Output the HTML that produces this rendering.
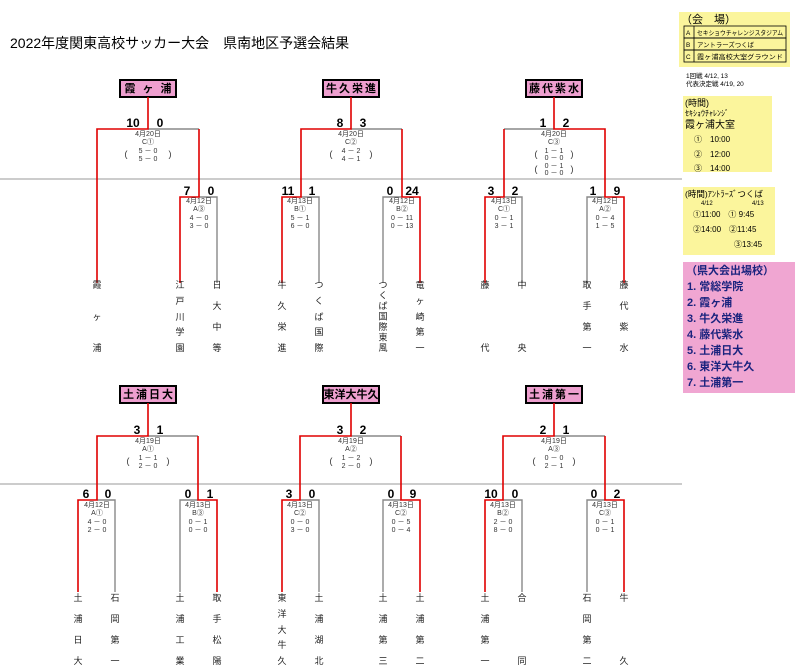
<!DOCTYPE html>
<html><head><meta charset="utf-8">
<style>
html,body{margin:0;padding:0;background:#fff;}
svg{display:block;font-family:"Liberation Sans","Noto Sans CJK JP",sans-serif;}
.t{font-size:7px;fill:#333;text-anchor:middle;}
.s{font-size:12px;font-weight:bold;fill:#000;text-anchor:middle;}
.n{font-size:9px;fill:#222;text-anchor:middle;}
.b{font-size:11px;font-weight:bold;fill:#000;text-anchor:middle;letter-spacing:2px;}
.r{fill:none;stroke:#e00000;stroke-width:1.6;}
.g{fill:none;stroke:#888;stroke-width:1.4;}
</style></head><body>
<svg width="800" height="668" viewBox="0 0 800 668" xmlns="http://www.w3.org/2000/svg">
<text x="10" y="48" style="font-size:14px;fill:#000">2022年度関東高校サッカー大会　県南地区予選会結果</text>

<line x1="0" y1="179" x2="682" y2="179" stroke="#999" stroke-width="1"/>
<line x1="0" y1="484" x2="682" y2="484" stroke="#999" stroke-width="1"/>

<rect x="679" y="12" width="111" height="55" fill="#fbf59c"/>
<text x="681" y="23" style="font-size:11px">（会　場）</text>
<g font-size="6.4" fill="#000">
<rect x="684" y="26" width="102" height="12" fill="none" stroke="#000" stroke-width="0.8"/>
<rect x="684" y="38" width="102" height="12" fill="none" stroke="#000" stroke-width="0.8"/>
<rect x="684" y="50" width="102" height="12" fill="none" stroke="#000" stroke-width="0.8"/>
<line x1="694" y1="26" x2="694" y2="62" stroke="#000" stroke-width="0.8"/>
<text x="686" y="35">A</text><text x="697" y="35" textLength="86" lengthAdjust="spacingAndGlyphs">セキショウチャレンジスタジアム</text>
<text x="686" y="47">B</text><text x="697" y="47">アントラーズつくば</text>
<text x="686" y="59">C</text><text x="697" y="59" textLength="86" lengthAdjust="spacingAndGlyphs">霞ヶ浦高校大室グラウンド</text>
</g>
<text x="686" y="78" style="font-size:6.5px">1回戦  4/12, 13</text>
<text x="686" y="86" style="font-size:6.5px">代表決定戦  4/19, 20</text>

<rect x="683" y="96" width="89" height="76" fill="#fbf59c"/>
<text x="685" y="106" style="font-size:9px">(時間)</text>
<text x="685" y="116" style="font-size:8px">ｾｷｼｮｳﾁｬﾚﾝｼﾞ</text>
<text x="685" y="128" style="font-size:10px">霞ヶ浦大室</text>
<text x="694" y="142" style="font-size:8px">①　10:00</text>
<text x="694" y="157" style="font-size:8px">②　12:00</text>
<text x="694" y="171" style="font-size:8px">③　14:00</text>

<rect x="683" y="187" width="92" height="68" fill="#fbf59c"/>
<text x="685" y="197" style="font-size:8.5px">(時間)ｱﾝﾄﾗｰｽﾞつくば</text>
<text x="701" y="205" style="font-size:6px">4/12</text>
<text x="752" y="205" style="font-size:6px">4/13</text>
<text x="693" y="217" style="font-size:8px">①11:00　①  9:45</text>
<text x="693" y="232" style="font-size:8px">②14:00　②11:45</text>
<text x="734" y="247" style="font-size:8px">③13:45</text>

<rect x="683" y="262" width="112" height="131" fill="#f0a6d2"/>
<g style="font-size:11px;font-weight:bold" fill="#1a237e">
<text x="686" y="274">（県大会出場校）</text>
<text x="687" y="290">1. 常総学院</text>
<text x="687" y="306">2. 霞ヶ浦</text>
<text x="687" y="322">3. 牛久栄進</text>
<text x="687" y="338">4. 藤代紫水</text>
<text x="687" y="354">5. 土浦日大</text>
<text x="687" y="370">6. 東洋大牛久</text>
<text x="687" y="386">7. 土浦第一</text>
</g>

<g>
<rect x="120" y="80" width="56" height="17" fill="#ee9fcf" stroke="#000" stroke-width="2"/>
<text class="b" x="149" y="92">霞 ヶ 浦</text>
<rect x="323" y="80" width="56" height="17" fill="#ee9fcf" stroke="#000" stroke-width="2"/>
<text class="b" x="352" y="92">牛久栄進</text>
<rect x="526" y="80" width="56" height="17" fill="#ee9fcf" stroke="#000" stroke-width="2"/>
<text class="b" x="555" y="92">藤代紫水</text>
<rect x="120" y="386" width="56" height="17" fill="#ee9fcf" stroke="#000" stroke-width="2"/>
<text class="b" x="149" y="398">土浦日大</text>
<rect x="323" y="386" width="56" height="17" fill="#ee9fcf" stroke="#000" stroke-width="2"/>
<text class="b" x="351" y="398" style="letter-spacing:0">東洋大牛久</text>
<rect x="526" y="386" width="56" height="17" fill="#ee9fcf" stroke="#000" stroke-width="2"/>
<text class="b" x="555" y="398">土浦第一</text>
</g>

<path class="g" d="M148,129 H199 M199,197 H217 V283"/>
<path class="r" d="M148,97 V129 H97 V283 M199,129 V197 H180 V283"/>
<path class="g" d="M351,129 H402 M301,197 H319 V283 M402,197 H383 V283"/>
<path class="r" d="M351,97 V129 H301 V197 H282 V283 M402,129 V197 H420 V283"/>
<path class="g" d="M504,129 H554 M504,197 H522 V283 M605,197 H587 V283"/>
<path class="r" d="M554,97 V129 H605 V197 H624 V283 M504,129 V197 H485 V283"/>
<path class="g" d="M148,436 H198 M97,500 H115 V592 M198,500 H180 V592"/>
<path class="r" d="M148,403 V436 H97 V500 H78 V592 M198,436 V500 H217 V592"/>
<path class="g" d="M351,436 H401 M300,500 H319 V592 M401,500 H383 V592"/>
<path class="r" d="M351,403 V436 H300 V500 H282 V592 M401,436 V500 H420 V592"/>
<path class="g" d="M554,436 H605 M503,500 H522 V592 M605,500 H587 V592"/>
<path class="r" d="M554,403 V436 H503 V500 H485 V592 M605,436 V500 H624 V592"/>

<text class="s" x="133" y="127">10</text><text class="s" x="160" y="127">0</text>
<text class="s" x="340" y="127">8</text><text class="s" x="363" y="127">3</text>
<text class="s" x="543" y="127">1</text><text class="s" x="566" y="127">2</text>
<text class="s" x="187" y="195">7</text><text class="s" x="211" y="195">0</text>
<text class="s" x="288" y="195">11</text><text class="s" x="312" y="195">1</text>
<text class="s" x="390" y="195">0</text><text class="s" x="412" y="195">24</text>
<text class="s" x="491" y="195">3</text><text class="s" x="515" y="195">2</text>
<text class="s" x="593" y="195">1</text><text class="s" x="617" y="195">9</text>
<text class="s" x="137" y="434">3</text><text class="s" x="160" y="434">1</text>
<text class="s" x="340" y="434">3</text><text class="s" x="363" y="434">2</text>
<text class="s" x="543" y="434">2</text><text class="s" x="566" y="434">1</text>
<text class="s" x="86" y="498">6</text><text class="s" x="108" y="498">0</text>
<text class="s" x="188" y="498">0</text><text class="s" x="210" y="498">1</text>
<text class="s" x="289" y="498">3</text><text class="s" x="312" y="498">0</text>
<text class="s" x="391" y="498">0</text><text class="s" x="413" y="498">9</text>
<text class="s" x="491" y="498">10</text><text class="s" x="515" y="498">0</text>
<text class="s" x="594" y="498">0</text><text class="s" x="617" y="498">2</text>

<text class="t" x="148" y="136">4月20日</text><text class="t" x="148" y="144">C①</text>
<text class="t" x="148" y="153">5 － 0</text><text class="t" x="148" y="161">5 － 0</text>
<text class="t" x="126" y="157" style="font-size:9px">(</text><text class="t" x="170" y="157" style="font-size:9px">)</text>
<text class="t" x="351" y="136">4月20日</text><text class="t" x="351" y="144">C②</text>
<text class="t" x="351" y="153">4 － 2</text><text class="t" x="351" y="161">4 － 1</text>
<text class="t" x="331" y="157" style="font-size:9px">(</text><text class="t" x="371" y="157" style="font-size:9px">)</text>
<text class="t" x="554" y="136">4月20日</text><text class="t" x="554" y="144">C③</text>
<text class="t" x="554" y="153">1 － 1</text><text class="t" x="554" y="160">0 － 0</text>
<text class="t" x="554" y="168">0 － 1</text><text class="t" x="554" y="175">0 － 0</text>
<text class="t" x="536" y="157" style="font-size:9px">(</text><text class="t" x="572" y="157" style="font-size:9px">)</text>
<text class="t" x="536" y="172" style="font-size:9px">(</text><text class="t" x="572" y="172" style="font-size:9px">)</text>
<text class="t" x="199" y="203">4月12日</text><text class="t" x="199" y="211">A③</text><text class="t" x="199" y="220">4 － 0</text><text class="t" x="199" y="228">3 － 0</text>
<text class="t" x="300" y="203">4月13日</text><text class="t" x="300" y="211">B①</text><text class="t" x="300" y="220">5 － 1</text><text class="t" x="300" y="228">6 － 0</text>
<text class="t" x="402" y="203">4月12日</text><text class="t" x="402" y="211">B②</text><text class="t" x="402" y="220">0 － 11</text><text class="t" x="402" y="228">0 － 13</text>
<text class="t" x="504" y="203">4月13日</text><text class="t" x="504" y="211">C①</text><text class="t" x="504" y="220">0 － 1</text><text class="t" x="504" y="228">3 － 1</text>
<text class="t" x="605" y="203">4月12日</text><text class="t" x="605" y="211">A②</text><text class="t" x="605" y="220">0 － 4</text><text class="t" x="605" y="228">1 － 5</text>
<text class="t" x="148" y="443">4月19日</text><text class="t" x="148" y="451">A①</text><text class="t" x="148" y="460">1 － 1</text><text class="t" x="148" y="468">2 － 0</text>
<text class="t" x="128" y="464" style="font-size:9px">(</text><text class="t" x="168" y="464" style="font-size:9px">)</text>
<text class="t" x="351" y="443">4月19日</text><text class="t" x="351" y="451">A②</text><text class="t" x="351" y="460">1 － 2</text><text class="t" x="351" y="468">2 － 0</text>
<text class="t" x="331" y="464" style="font-size:9px">(</text><text class="t" x="371" y="464" style="font-size:9px">)</text>
<text class="t" x="554" y="443">4月19日</text><text class="t" x="554" y="451">A③</text><text class="t" x="554" y="460">0 － 0</text><text class="t" x="554" y="468">2 － 1</text>
<text class="t" x="534" y="464" style="font-size:9px">(</text><text class="t" x="574" y="464" style="font-size:9px">)</text>
<text class="t" x="97" y="507">4月12日</text><text class="t" x="97" y="515">A①</text><text class="t" x="97" y="524">4 － 0</text><text class="t" x="97" y="532">2 － 0</text>
<text class="t" x="198" y="507">4月13日</text><text class="t" x="198" y="515">B③</text><text class="t" x="198" y="524">0 － 1</text><text class="t" x="198" y="532">0 － 0</text>
<text class="t" x="300" y="507">4月13日</text><text class="t" x="300" y="515">C②</text><text class="t" x="300" y="524">0 － 0</text><text class="t" x="300" y="532">3 － 0</text>
<text class="t" x="401" y="507">4月13日</text><text class="t" x="401" y="515">C②</text><text class="t" x="401" y="524">0 － 5</text><text class="t" x="401" y="532">0 － 4</text>
<text class="t" x="503" y="507">4月13日</text><text class="t" x="503" y="515">B②</text><text class="t" x="503" y="524">2 － 0</text><text class="t" x="503" y="532">8 － 0</text>
<text class="t" x="605" y="507">4月13日</text><text class="t" x="605" y="515">C③</text><text class="t" x="605" y="524">0 － 1</text><text class="t" x="605" y="532">0 － 1</text>

<g>
<text class="n" x="97" y="288">霞</text><text class="n" x="97" y="320">ヶ</text><text class="n" x="97" y="351">浦</text>
<text class="n" x="180" y="288">江</text><text class="n" x="180" y="304">戸</text><text class="n" x="180" y="320">川</text><text class="n" x="180" y="335">学</text><text class="n" x="180" y="351">園</text>
<text class="n" x="217" y="288">日</text><text class="n" x="217" y="309">大</text><text class="n" x="217" y="330">中</text><text class="n" x="217" y="351">等</text>
<text class="n" x="282" y="288">牛</text><text class="n" x="282" y="309">久</text><text class="n" x="282" y="330">栄</text><text class="n" x="282" y="351">進</text>
<text class="n" x="319" y="288">つ</text><text class="n" x="319" y="304">く</text><text class="n" x="319" y="320">ば</text><text class="n" x="319" y="335">国</text><text class="n" x="319" y="351">際</text>
<text class="n" x="383" y="288">つ</text><text class="n" x="383" y="298.5">く</text><text class="n" x="383" y="309">ば</text><text class="n" x="383" y="319.5">国</text><text class="n" x="383" y="330">際</text><text class="n" x="383" y="340.5">東</text><text class="n" x="383" y="351">風</text>
<text class="n" x="420" y="288">竜</text><text class="n" x="420" y="304">ヶ</text><text class="n" x="420" y="320">崎</text><text class="n" x="420" y="335">第</text><text class="n" x="420" y="351">一</text>
<text class="n" x="485" y="288">藤</text><text class="n" x="485" y="351">代</text>
<text class="n" x="522" y="288">中</text><text class="n" x="522" y="351">央</text>
<text class="n" x="587" y="288">取</text><text class="n" x="587" y="309">手</text><text class="n" x="587" y="330">第</text><text class="n" x="587" y="351">一</text>
<text class="n" x="624" y="288">藤</text><text class="n" x="624" y="309">代</text><text class="n" x="624" y="330">紫</text><text class="n" x="624" y="351">水</text>
</g>
<g>
<text class="n" x="78" y="601">土</text><text class="n" x="78" y="622">浦</text><text class="n" x="78" y="643">日</text><text class="n" x="78" y="664">大</text>
<text class="n" x="115" y="601">石</text><text class="n" x="115" y="622">岡</text><text class="n" x="115" y="643">第</text><text class="n" x="115" y="664">一</text>
<text class="n" x="180" y="601">土</text><text class="n" x="180" y="622">浦</text><text class="n" x="180" y="643">工</text><text class="n" x="180" y="664">業</text>
<text class="n" x="217" y="601">取</text><text class="n" x="217" y="622">手</text><text class="n" x="217" y="643">松</text><text class="n" x="217" y="664">陽</text>
<text class="n" x="282" y="601">東</text><text class="n" x="282" y="617">洋</text><text class="n" x="282" y="633">大</text><text class="n" x="282" y="648">牛</text><text class="n" x="282" y="664">久</text>
<text class="n" x="319" y="601">土</text><text class="n" x="319" y="622">浦</text><text class="n" x="319" y="643">湖</text><text class="n" x="319" y="664">北</text>
<text class="n" x="383" y="601">土</text><text class="n" x="383" y="622">浦</text><text class="n" x="383" y="643">第</text><text class="n" x="383" y="664">三</text>
<text class="n" x="420" y="601">土</text><text class="n" x="420" y="622">浦</text><text class="n" x="420" y="643">第</text><text class="n" x="420" y="664">二</text>
<text class="n" x="485" y="601">土</text><text class="n" x="485" y="622">浦</text><text class="n" x="485" y="643">第</text><text class="n" x="485" y="664">一</text>
<text class="n" x="522" y="601">合</text><text class="n" x="522" y="664">同</text>
<text class="n" x="587" y="601">石</text><text class="n" x="587" y="622">岡</text><text class="n" x="587" y="643">第</text><text class="n" x="587" y="664">二</text>
<text class="n" x="624" y="601">牛</text><text class="n" x="624" y="664">久</text>
</g>
</svg>
</body></html>
